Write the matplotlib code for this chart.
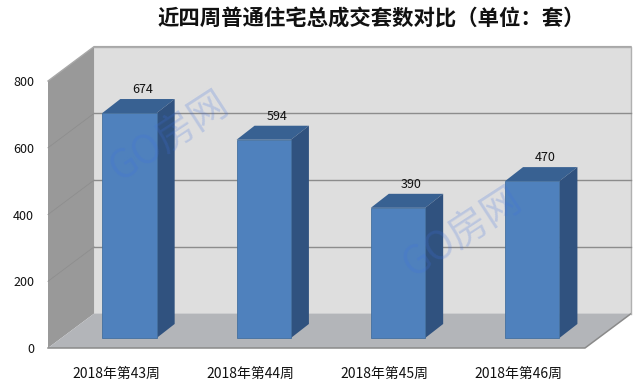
"""
Pseudo-3D column chart of weekly housing sales, drawn on one flat axes.
"""
import numpy as np
from matplotlib import pyplot as plt
from matplotlib.patches import Polygon

plt.rcParams['font.family'] = ['Noto Sans CJK SC', 'DejaVu Sans']

weeks = ["2018年第43周", "2018年第44周", "2018年第45周", "2018年第46周"]
sales = [674, 594, 390, 470]
y_ticks = [0, 200, 400, 600, 800]
title = "近四周普通住宅总成交套数对比（单位：套）"
watermark = "GO房网"

# depth of the box and of the bars, in axis units
box_dx, box_dy = 0.343, 103
bar_dx, bar_dy = 0.134, 42
bar_shift, bar_lift = 0.107, 30
bar_width = 0.405

fig = plt.figure(figsize=(6.41, 3.86), dpi=100)
ax = fig.add_axes([48 / 641, 38 / 386, 537 / 641, 267 / 386])
ax.set_xlim(-0.5, 3.5)
ax.set_ylim(0, 800)
ax.patch.set_visible(False)
for s in ax.spines.values():
    s.set_visible(False)

x0, x1 = ax.get_xlim()
y0, y1 = ax.get_ylim()


def poly(points, color, z, edge="none", lw=0):
    ax.add_patch(Polygon(points, closed=True, facecolor=color, edgecolor=edge,
                         linewidth=lw, zorder=z, clip_on=False))


# walls and floor
poly([(x0 + box_dx, y0 + box_dy), (x1 + box_dx, y0 + box_dy),
      (x1 + box_dx, y1 + box_dy), (x0 + box_dx, y1 + box_dy)], "#dedede", 1)
poly([(x0, y0), (x0 + box_dx, y0 + box_dy), (x0 + box_dx, y1 + box_dy), (x0, y1)], "#999999", 1)
poly([(x0, y0), (x1, y0), (x1 + box_dx, y0 + box_dy), (x0 + box_dx, y0 + box_dy)], "#b3b5b9", 1)

# box edges
ax.plot([x0, x1, x1 + box_dx], [y0, y0, y0 + box_dy], color="#8a8a8a", lw=1.1, zorder=2, clip_on=False)
ax.plot([x0 + box_dx, x1 + box_dx, x1 + box_dx], [y1 + box_dy, y1 + box_dy, y0 + box_dy],
        color="#b0b0b0", lw=1, zorder=2, clip_on=False)
ax.plot([x0, x0 + box_dx, x1 + box_dx], [y1, y1 + box_dy, y1 + box_dy], color="#a8a8a8", lw=1,
        zorder=2, clip_on=False)

# gridlines on the back wall and on the side wall
for v in y_ticks[1:-1]:
    ax.plot([x0 + box_dx, x1 + box_dx], [v + box_dy, v + box_dy], color="#8c8c8c", lw=1, zorder=2,
            clip_on=False)
    ax.plot([x0, x0 + box_dx], [v, v + box_dy], color="#8e8e8e", lw=0.6, zorder=2, clip_on=False)

# bars
xpos = np.arange(len(weeks))
front_x = xpos + bar_shift
ax.bar(front_x, sales, width=bar_width, bottom=bar_lift, color="#4f81bd", edgecolor="#44709f",
       linewidth=0.6, zorder=4)
for x, v in zip(front_x, sales):
    left = x - bar_width / 2
    right = x + bar_width / 2
    top = v + bar_lift
    poly([(left, top), (right, top), (right + bar_dx, top + bar_dy), (left + bar_dx, top + bar_dy)],
         "#386192", 3)
    poly([(right, bar_lift), (right + bar_dx, bar_lift + bar_dy), (right + bar_dx, top + bar_dy),
          (right, top)], "#30527f", 3)
    ax.annotate(str(v), (x, top + bar_dy), xytext=(13, 3), textcoords="offset pixels",
                ha="center", va="bottom", fontsize=9, color="#111111", zorder=6)

ax.set_xticks(xpos + 0.007, weeks)
ax.set_yticks(y_ticks)
ax.tick_params(axis="x", length=0, pad=13.5, labelsize=10, labelcolor="#111111")
ax.tick_params(axis="y", length=0, pad=10, labelsize=9, labelcolor="#111111")

fig.text(371 / 641, 1 - 19 / 386, title, ha="center", va="center", fontsize=15.4, fontweight="bold",
         color="#111111")

# watermarks
for wx, wy in [(170, 137), (463, 233)]:
    fig.text(wx / 641, 1 - wy / 386, watermark, ha="center", va="center", rotation=33, fontsize=28,
             color="#3f6fe0", alpha=0.22, zorder=10)

plt.savefig("out.png", dpi=100)
